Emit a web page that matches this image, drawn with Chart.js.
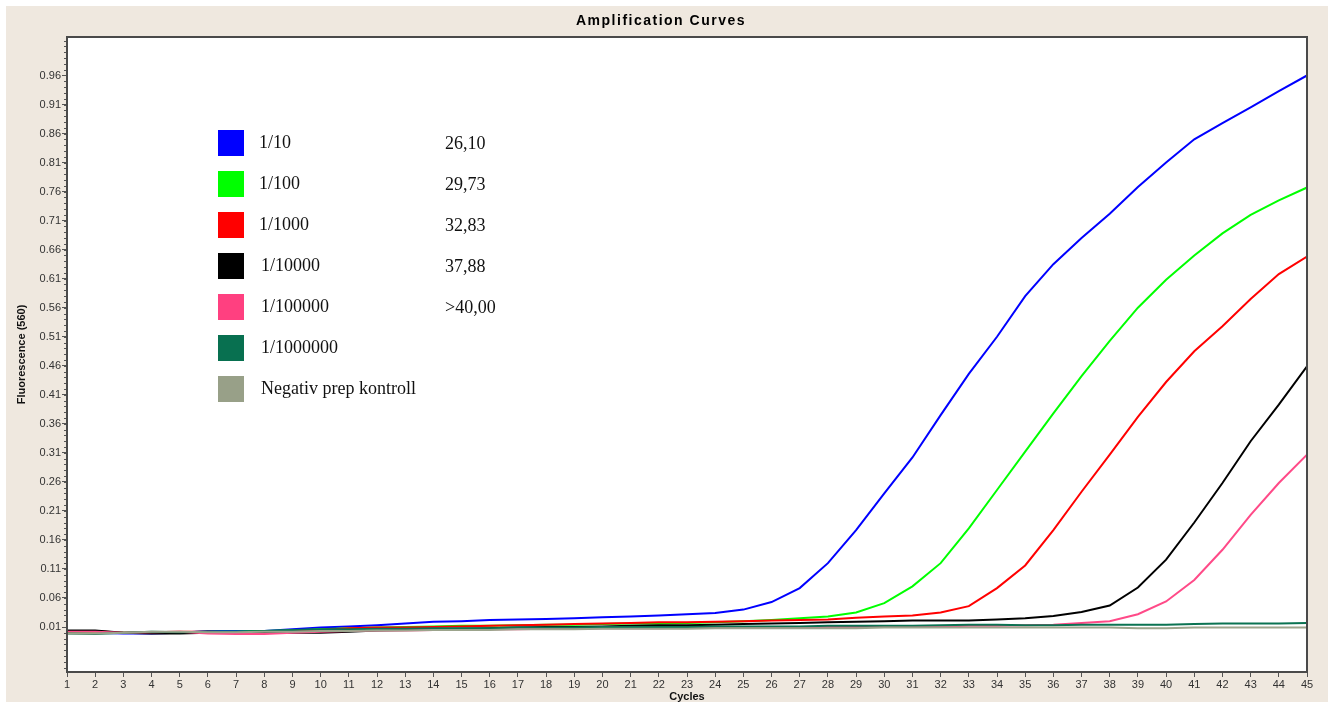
<!DOCTYPE html>
<html>
<head>
<meta charset="utf-8">
<title>Amplification Curves</title>
<script src="https://cdn.jsdelivr.net/npm/chart.js@4.4.0/dist/chart.umd.min.js"></script>
<style>
  html, body { margin: 0; padding: 0; background: #fff; }
  canvas { display: block; }
</style>
</head>
<body>
<canvas id="amp" width="1333" height="702"></canvas>
<script>
// cycles and fluorescence readings
const cycles = [1, 2, 3, 4, 5, 6, 7, 8, 9, 10, 11, 12, 13, 14, 15, 16, 17, 18, 19, 20, 21, 22, 23,
  24, 25, 26, 27, 28, 29, 30, 31, 32, 33, 34, 35, 36, 37, 38, 39, 40, 41, 42, 43, 44, 45];

const dil10 = [0.002, 0.000, -0.001, -0.001, 0.000, 0.003, 0.003, 0.003, 0.006, 0.009, 0.011, 0.013,
  0.016, 0.019, 0.020, 0.022, 0.023, 0.024, 0.025, 0.027, 0.028, 0.030, 0.032, 0.034, 0.040, 0.053,
  0.077, 0.120, 0.177, 0.240, 0.302, 0.375, 0.446, 0.510, 0.580, 0.635, 0.680, 0.722, 0.768, 0.810,
  0.850, 0.878, 0.905, 0.933, 0.960];
const dil100 = [0.001, 0.001, 0.000, 0.001, 0.001, 0.002, 0.002, 0.003, 0.004, 0.006, 0.008, 0.009,
  0.010, 0.011, 0.012, 0.012, 0.013, 0.014, 0.014, 0.015, 0.016, 0.016, 0.017, 0.018, 0.020, 0.022,
  0.025, 0.028, 0.035, 0.051, 0.080, 0.120, 0.180, 0.246, 0.312, 0.378, 0.442, 0.503, 0.560, 0.608,
  0.650, 0.688, 0.720, 0.745, 0.767];
const dil1000 = [0.003, 0.003, 0.000, 0.001, 0.002, 0.002, 0.001, 0.002, 0.003, 0.005, 0.008, 0.009,
  0.009, 0.010, 0.011, 0.012, 0.013, 0.014, 0.015, 0.016, 0.017, 0.018, 0.018, 0.019, 0.020, 0.021,
  0.022, 0.023, 0.026, 0.028, 0.030, 0.035, 0.046, 0.077, 0.116, 0.177, 0.243, 0.307, 0.372, 0.432,
  0.485, 0.528, 0.575, 0.618, 0.648];
const dil10000 = [0.004, 0.004, 0.000, -0.001, -0.001, 0.000, 0.001, 0.001, 0.000, 0.000, 0.002, 0.004,
  0.005, 0.006, 0.007, 0.008, 0.009, 0.010, 0.010, 0.011, 0.012, 0.013, 0.013, 0.014, 0.015, 0.016,
  0.017, 0.018, 0.019, 0.020, 0.021, 0.021, 0.021, 0.023, 0.025, 0.029, 0.036, 0.047, 0.078, 0.126,
  0.190, 0.258, 0.330, 0.393, 0.459];
const dil100000 = [0.002, 0.002, 0.000, 0.001, 0.002, -0.001, -0.002, -0.002, 0.000, 0.002, 0.003, 0.004,
  0.004, 0.005, 0.005, 0.006, 0.006, 0.007, 0.007, 0.008, 0.008, 0.008, 0.009, 0.009, 0.009, 0.010,
  0.010, 0.010, 0.010, 0.010, 0.011, 0.011, 0.012, 0.012, 0.013, 0.014, 0.017, 0.020, 0.032, 0.054,
  0.091, 0.143, 0.203, 0.258, 0.307];
const dil1000000 = [-0.001, -0.002, 0.000, 0.002, 0.001, 0.002, 0.002, 0.003, 0.005, 0.006, 0.006, 0.007,
  0.007, 0.008, 0.008, 0.008, 0.009, 0.009, 0.009, 0.010, 0.010, 0.010, 0.010, 0.011, 0.011, 0.011,
  0.011, 0.012, 0.012, 0.012, 0.012, 0.013, 0.014, 0.014, 0.013, 0.013, 0.014, 0.014, 0.014, 0.014,
  0.015, 0.016, 0.016, 0.016, 0.017];
const negKontroll = [-0.001, -0.001, 0.000, 0.002, 0.002, 0.001, 0.001, 0.002, 0.002, 0.003, 0.003, 0.004,
  0.004, 0.005, 0.005, 0.005, 0.006, 0.006, 0.006, 0.007, 0.007, 0.007, 0.007, 0.008, 0.008, 0.008,
  0.008, 0.008, 0.008, 0.009, 0.009, 0.009, 0.009, 0.009, 0.009, 0.009, 0.009, 0.009, 0.008, 0.008,
  0.009, 0.009, 0.009, 0.009, 0.009];

const chartTitle = 'Amplification Curves';
const seriesNames = ['1/10', '1/100', '1/1000', '1/10000', '1/100000', '1/1000000', 'Negativ prep kontroll'];
const ctValues = ['26,10', '29,73', '32,83', '37,88', '>40,00', '', ''];
const yTickValues = [0.01, 0.06, 0.11, 0.16, 0.21, 0.26, 0.31, 0.36, 0.41, 0.46, 0.51,
  0.56, 0.61, 0.66, 0.71, 0.76, 0.81, 0.86, 0.91, 0.96];

const allSeries = [dil10, dil100, dil1000, dil10000, dil100000, dil1000000, negKontroll];
const lineColors = ['#0000ff', '#00ff00', '#ff0000', '#000000', '#ff4a88', '#0b7352', '#9ca48c'];
const boxColors = ['#0000ff', '#00ff00', '#ff0000', '#000000', '#ff4080', '#087050', '#98a088'];

// tausta, otsikko, kehys, pienet asteikkoviivat ja selite
const paintPlugin = {
  id: 'paint',
  beforeDraw(chart) {
    const { ctx, chartArea: a } = chart;
    ctx.save();
    ctx.fillStyle = '#ffffff';
    ctx.fillRect(0, 0, chart.width, chart.height);
    ctx.fillStyle = '#efe8df';
    ctx.fillRect(6, 6, chart.width - 11, chart.height - 6);
    ctx.fillStyle = '#ffffff';
    ctx.fillRect(a.left, a.top, a.right - a.left, a.bottom - a.top);

    // title, a bit spaced out like the original
    ctx.fillStyle = '#000';
    ctx.font = "bold 14px Arial, 'Liberation Sans', sans-serif";
    ctx.textAlign = 'center';
    ctx.textBaseline = 'middle';
    if ('letterSpacing' in ctx) ctx.letterSpacing = '1.5px';
    ctx.fillText(chartTitle, 661, 21);
    if ('letterSpacing' in ctx) ctx.letterSpacing = '0px';
    ctx.restore();
  },
  afterDraw(chart) {
    const { ctx, chartArea: a } = chart;
    const ys = chart.scales.y;
    ctx.save();

    // minor ticks every 0.01
    ctx.strokeStyle = '#555';
    ctx.lineWidth = 1;
    ctx.beginPath();
    for (let i = Math.ceil(ys.min * 100); i <= Math.floor(ys.max * 100); i++) {
      const p = Math.round(ys.getPixelForValue(i / 100)) + 0.5;
      ctx.moveTo(a.left - 3, p);
      ctx.lineTo(a.left, p);
    }
    ctx.stroke();

    // plot frame
    ctx.strokeStyle = '#4a4a4a';
    ctx.lineWidth = 2;
    ctx.strokeRect(a.left, a.top, a.right - a.left, a.bottom - a.top);

    // legend block inside the plot
    const rowTop = 143, rowGap = 41;
    ctx.font = "18px 'Liberation Serif', 'Times New Roman', serif";
    ctx.textBaseline = 'alphabetic';
    ctx.textAlign = 'left';
    seriesNames.forEach((name, i) => {
      const cy = rowTop + i * rowGap;
      ctx.fillStyle = boxColors[i];
      ctx.fillRect(218, cy - 13, 26, 26);
      ctx.fillStyle = '#111';
      ctx.fillText(name, i < 3 ? 259 : 261, cy + 5);
      if (ctValues[i]) ctx.fillText(ctValues[i], 445, cy + 6);
    });
    ctx.restore();
  }
};

const datasets = allSeries.map((vals, i) => ({
  label: seriesNames[i],
  data: vals.map((v, j) => ({ x: cycles[j], y: v })),
  borderColor: lineColors[i],
  backgroundColor: lineColors[i],
  borderWidth: 2,
  pointRadius: 0,
  tension: 0,
  fill: false
}));

new Chart(document.getElementById('amp'), {
  type: 'line',
  data: { datasets: datasets.slice().reverse() },
  options: {
    responsive: false,
    animation: false,
    devicePixelRatio: 1,
    layout: { padding: { left: 0, right: 26, top: 37, bottom: 0 } },
    plugins: {
      legend: { display: false },
      tooltip: { enabled: false },
      title: { display: false }
    },
    scales: {
      x: {
        type: 'linear',
        min: 1,
        max: 45,
        afterFit(scale) { scale.height = 30; },
        afterBuildTicks(scale) { scale.ticks = cycles.map(c => ({ value: c })); },
        grid: { drawOnChartArea: false, tickLength: 5, color: '#555' },
        border: { display: false },
        ticks: {
          autoSkip: false,
          maxRotation: 0,
          padding: 1,
          color: '#333',
          font: { family: 'Arial, "Liberation Sans", sans-serif', size: 11 }
        },
        title: {
          display: true,
          text: 'Cycles',
          color: '#111',
          padding: { top: 0, bottom: 0 },
          font: { family: 'Arial, "Liberation Sans", sans-serif', size: 11, weight: 'bold', lineHeight: 1 }
        }
      },
      y: {
        type: 'linear',
        min: -0.0675,
        max: 1.0263,
        afterFit(scale) { scale.width = 67; },
        afterBuildTicks(scale) { scale.ticks = yTickValues.map(v => ({ value: v })); },
        grid: { drawOnChartArea: false, tickLength: 5, color: '#555' },
        border: { display: false },
        ticks: {
          padding: 1,
          color: '#333',
          font: { family: 'Arial, "Liberation Sans", sans-serif', size: 11 },
          callback: v => v.toFixed(2)
        },
        title: {
          display: true,
          text: 'Fluorescence (560)',
          color: '#111',
          padding: { top: 15, bottom: 0 },
          font: { family: 'Arial, "Liberation Sans", sans-serif', size: 11, weight: 'bold' }
        }
      }
    }
  },
  plugins: [paintPlugin]
});
</script>
</body>
</html>
